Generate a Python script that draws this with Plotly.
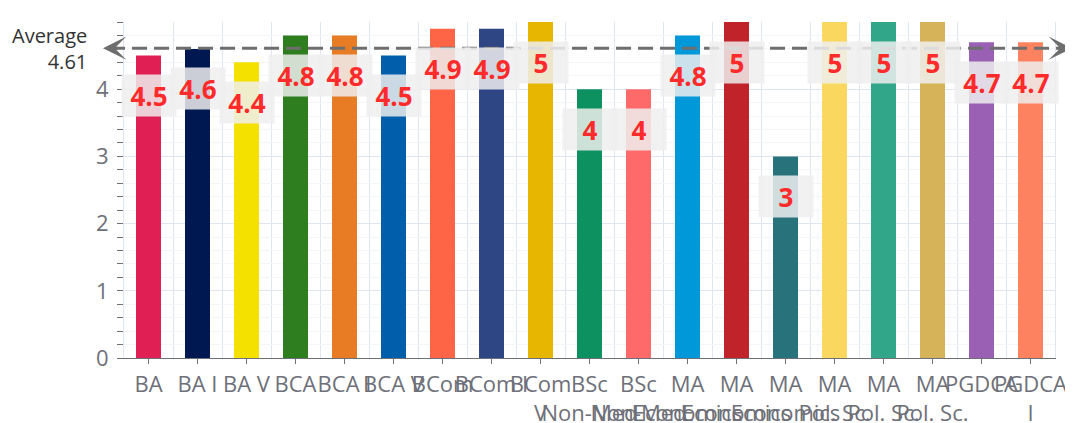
import plotly.graph_objects as go

categories = ["BA", "BA I", "BA V", "BCA", "BCA I", "BCA V", "BCom", "BCom I", "BCom<br>V",
              "BSc<br>Non-Med", "BSc<br>Non-Med", "MA<br>Economics", "MA<br>Economics",
              "MA<br>Economics", "MA<br>Pol. Sc.", "MA<br>Pol. Sc.", "MA<br>Pol. Sc.",
              "PGDCA", "PGDCA<br>I"]
scores = [4.5, 4.6, 4.4, 4.8, 4.8, 4.5, 4.9, 4.9, 5, 4, 4, 4.8, 5, 3, 5, 5, 5, 4.7, 4.7]
bar_colors = ["#e01f54", "#001852", "#f5e100", "#2e7d1e", "#e87c25", "#005eaa", "#fe6446",
              "#2f4684", "#e6b600", "#0e9160", "#fe6a6a", "#0098d9", "#c1232b", "#27727b",
              "#fad860", "#31a688", "#d6b258", "#9a60b4", "#fd8360"]
y_ticks = [0, 1, 2, 3, 4, 5]

average = sum(scores) / len(scores)
positions = list(range(len(categories)))

FONT = "Open Sans"
AXIS_GRAY = "#6e7079"

fig = go.Figure(go.Bar(
    x=positions, y=scores, width=0.51,
    marker=dict(color=bar_colors, line=dict(width=0)),
    hoverinfo="skip",
))

annotations = []
for xp, v in zip(positions, scores):
    annotations.append(dict(
        x=xp, y=v, xref="x", yref="y", yshift=-40, yanchor="middle",
        text=f"<b>{v:g}</b>", showarrow=False,
        font=dict(family=FONT, size=26, color="#ff2a2a"),
        bgcolor="rgba(238,238,238,0.85)", borderpad=4, width=46, height=33,
    ))

# average label
annotations.append(dict(
    x=0, xref="paper", xshift=-35, xanchor="right", y=average, yref="y", yanchor="middle",
    text=f"Average<br>{average:.2f}", align="right", showarrow=False,
    font=dict(family=FONT, size=20, color="#333333"),
))
# arrowheads at both ends of the average line
for tip, tail in [(-0.0226, 16), (1.0183, -16)]:
    annotations.append(dict(
        x=tip, xref="paper", y=average, yref="y", ax=tail, ay=0, text="",
        showarrow=True, arrowhead=3, arrowsize=1.3, arrowwidth=3, arrowcolor="#6e6e6e",
        standoff=0,
    ))

fig.update_layout(
    width=1065, height=415,
    margin=dict(l=116, r=18, t=14, b=65, autoexpand=False),
    plot_bgcolor="white", paper_bgcolor="white",
    showlegend=False,
    bargap=0.49,
    font=dict(family=FONT, color=AXIS_GRAY),
    annotations=annotations,
    shapes=[dict(
        type="line", xref="paper", yref="y", x0=-0.015, x1=1.012, y0=average, y1=average,
        line=dict(color="#6e6e6e", width=3, dash="15px,7px"), layer="above",
    )],
    xaxis=dict(
        range=[-0.5, len(categories) - 0.5],
        tickmode="array", tickvals=positions, ticktext=categories, tickangle=0,
        ticks="outside", ticklen=5, tickcolor=AXIS_GRAY,
        showline=True, linecolor=AXIS_GRAY, linewidth=1,
        showgrid=False, zeroline=False, automargin=False,
        tickfont=dict(family=FONT, size=22, color=AXIS_GRAY),
        ticklabelstandoff=2,
        minor=dict(tick0=-0.5, dtick=1, showgrid=True, gridcolor="#e0e6f1", ticks=""),
    ),
    yaxis=dict(
        range=[0, 5], tickmode="array", tickvals=y_ticks, ticks="",
        showgrid=True, gridcolor="#e0e6f1", zeroline=False,
        showline=True, linecolor="#e0e6f1", mirror=True, automargin=False,
        tickfont=dict(family=FONT, size=22, color=AXIS_GRAY),
        ticklabelstandoff=10,
        minor=dict(tick0=0, dtick=0.2, ticks="outside", ticklen=6, tickcolor=AXIS_GRAY,
                   showgrid=True, gridcolor="#f3f5fa"),
    ),
)

fig.write_html("out.html")
